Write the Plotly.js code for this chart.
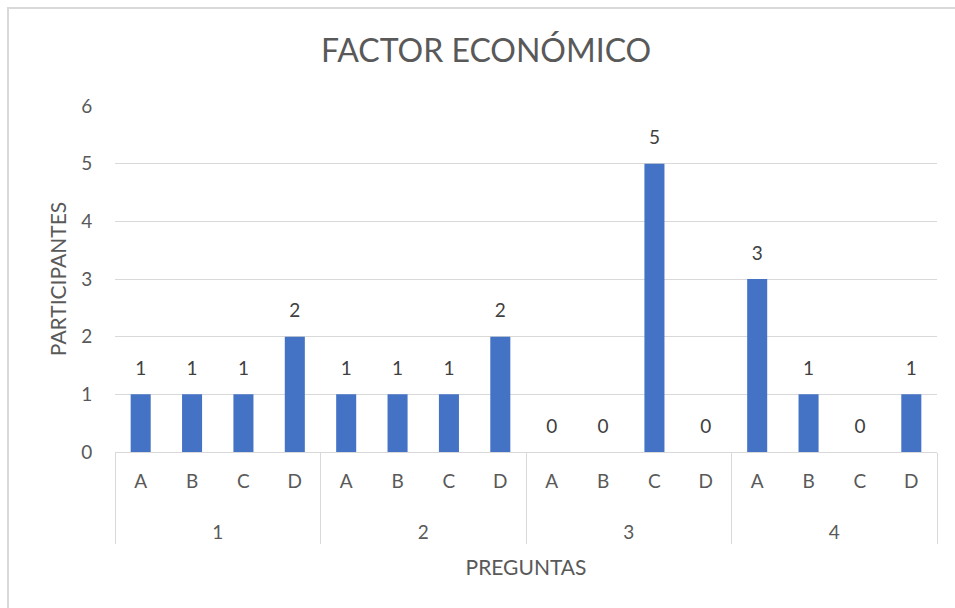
<!DOCTYPE html>
<html>
<head>
<meta charset="utf-8">
<script src="https://cdn.plot.ly/plotly-3.0.1.min.js"></script>
<style>
html,body{margin:0;padding:0;background:#fff;}
#wrap{position:relative;width:955px;height:608px;}
#chart{width:955px;height:608px;}
#frame{position:absolute;left:7px;top:7px;width:960px;height:620px;border-top:2px solid #d9d9d9;border-left:2px solid #d9d9d9;pointer-events:none;box-sizing:border-box;}
</style>
</head>
<body>
<div id="wrap"><div id="chart"></div><div id="frame"></div></div>
<script>
const preguntas = ["1","1","1","1","2","2","2","2","3","3","3","3","4","4","4","4"];
const opciones  = ["A","B","C","D","A","B","C","D","A","B","C","D","A","B","C","D"];
const participantes = [1,1,1,2, 1,1,1,2, 0,0,5,0, 3,1,0,1];

const FONT = "Lato, 'Open Sans', sans-serif";
const GREY = "#595959";

// label text is drawn at 19px inside a taller tick line so the outer row sits lower, as in the reference
const small = s => "<span style='font-size:19px'>" + s + "</span>";
const outerLabels = preguntas.map(small);
const innerLabels = opciones.map(o => small(o) + "<br> ");

const bars = {
  type: "bar",
  x: [outerLabels, innerLabels],
  y: participantes,
  marker: {color: "#4472C4"},
  hoverinfo: "skip",
  showlegend: false
};
const labels = {
  type: "scatter",
  mode: "markers+text",
  x: [outerLabels, innerLabels],
  y: participantes,
  text: participantes.map(String),
  textposition: "top center",
  textfont: {family: FONT, size: 19, color: "#404040"},
  marker: {size: 22, opacity: 0},
  hoverinfo: "skip",
  showlegend: false,
  cliponaxis: false
};

const layout = {
  width: 955, height: 608,
  margin: {l: 115, r: 18, t: 106, b: 156},
  paper_bgcolor: "#ffffff",
  plot_bgcolor: "#ffffff",
  font: {family: FONT, color: GREY, size: 19},
  bargap: 0.61,
  title: {
    text: "FACTOR ECONÓMICO",
    font: {family: FONT, size: 32, color: GREY},
    x: 0.509, xref: "container", xanchor: "center",
    y: 0.916, yref: "container", yanchor: "middle"
  },
  xaxis: {
    type: "multicategory",
    range: [-0.5, 15.5],
    showline: true, linecolor: "#d9d9d9", linewidth: 1,
    showgrid: false,
    ticks: "",
    ticklabelstandoff: 6,
    tickfont: {family: FONT, size: 24, color: GREY},
    showdividers: true, dividercolor: "#d9d9d9", dividerwidth: 1,
    title: {text: "PREGUNTAS", font: {family: FONT, size: 21, color: GREY}, standoff: 18}
  },
  yaxis: {
    range: [0, 6], dtick: 1,
    showgrid: true, gridcolor: "#d9d9d9", gridwidth: 1,
    zeroline: true, zerolinecolor: "#d9d9d9", zerolinewidth: 1,
    showline: false,
    ticks: "outside", ticklen: 18, tickcolor: "rgba(0,0,0,0)",
    tickfont: {family: FONT, size: 19, color: GREY},
    title: {text: "PARTICIPANTES", font: {family: FONT, size: 21, color: GREY}, standoff: 8}
  }
};

Plotly.newPlot("chart", [bars, labels], layout, {displayModeBar: false, staticPlot: true});
</script>
</body>
</html>
